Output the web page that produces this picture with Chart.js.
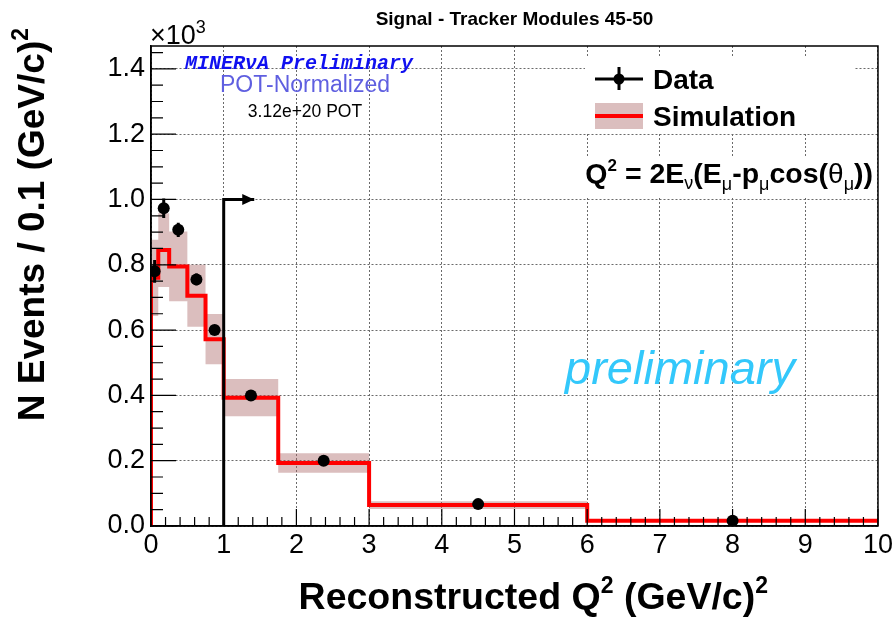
<!DOCTYPE html>
<html>
<head>
<meta charset="utf-8">
<script src="https://cdn.jsdelivr.net/npm/chart.js@4.4.0/dist/chart.umd.min.js"></script>
<style>
  html, body { margin: 0; padding: 0; background: #fff; }
  #wrap { width: 896px; height: 618px; }
</style>
</head>
<body>
<div id="wrap"><canvas id="q2Chart" width="896" height="618"></canvas></div>
<script>
// Q^2 bins, (GeV/c)^2
const binEdges = [0, 0.1, 0.25, 0.5, 0.75, 1, 1.75, 3, 6, 10];
// simulation, in units of 10^3 events
const simValues = [0.76, 0.845, 0.795, 0.705, 0.572, 0.393, 0.193, 0.064, 0.016];
const simErrors = [0.117, 0.113, 0.107, 0.095, 0.077, 0.057, 0.030, 0.012, 0.004];
// data points
const dataX = [0.05, 0.175, 0.375, 0.625, 0.875, 1.375, 2.375, 4.5, 8];
const dataValues = [0.78, 0.973, 0.907, 0.755, 0.600, 0.400, 0.200, 0.067, 0.016];
const dataErrors = [0.035, 0.030, 0.022, 0.018, 0.014, 0.010, 0.006, 0.003, 0.002];
// cut line (Q2 > 1)
const cutX = [1, 1, 1.42];
const cutY = [0, 1.0, 1.0];
// axis ticks
const xTicks = [0, 1, 2, 3, 4, 5, 6, 7, 8, 9, 10];
const yTicks = [0, 0.2, 0.4, 0.6, 0.8, 1.0, 1.2, 1.4];

const SANS = "'Liberation Sans', Arial, Helvetica, sans-serif";

function stepPoints(vals) {
  const pts = vals.map((v, i) => ({ x: binEdges[i], y: v }));
  pts.push({ x: binEdges[binEdges.length - 1], y: vals[vals.length - 1] });
  return pts;
}

const redLine = [{ x: 0, y: 0 }].concat(stepPoints(simValues));
const bandUp = stepPoints(simValues.map((v, i) => v + simErrors[i]));
const bandLo = stepPoints(simValues.map((v, i) => v - simErrors[i]));

const errBars = [];
dataX.forEach((x, i) => {
  errBars.push({ x: x, y: dataValues[i] - dataErrors[i] });
  errBars.push({ x: x, y: dataValues[i] + dataErrors[i] });
  errBars.push({ x: x, y: null });
});

// draws a list of text pieces (sub/superscripts) on one baseline
function drawRich(ctx, parts, x, y, align) {
  let total = 0;
  parts.forEach(p => { ctx.font = p.f; p.w = ctx.measureText(p.t).width; total += p.w; });
  let cx = align === 'right' ? x - total : align === 'center' ? x - total / 2 : x;
  ctx.textAlign = 'left';
  ctx.textBaseline = 'alphabetic';
  parts.forEach(p => {
    ctx.font = p.f;
    ctx.fillText(p.t, cx, y + (p.dy || 0));
    cx += p.w;
  });
}

const rootDecor = {
  id: 'rootDecor',
  beforeDatasetsDraw(chart) {
    const ctx = chart.ctx;
    ctx.save();
    ctx.fillStyle = '#fff';
    ctx.fillRect(585, 57, 270, 76);
    ctx.fillRect(576, 158, 300, 38);
    ctx.restore();
  },
  afterDraw(chart) {
    const ctx = chart.ctx;
    const xs = chart.scales.x, ys = chart.scales.y;
    const a = chart.chartArea;
    ctx.save();

    // frame
    ctx.strokeStyle = '#000';
    ctx.lineWidth = 1.5;
    ctx.strokeRect(a.left, a.top, a.right - a.left, a.bottom - a.top);

    // inward ticks, left and bottom
    ctx.lineWidth = 1.2;
    ctx.beginPath();
    for (let v = 0; v <= 10.001; v += 0.2) {
      const px = xs.getPixelForValue(v);
      const major = Math.abs(v - Math.round(v)) < 1e-6;
      ctx.moveTo(px, a.bottom);
      ctx.lineTo(px, a.bottom - (major ? 17 : 9));
    }
    for (let v = 0; v <= 1.46; v += 0.05) {
      const py = ys.getPixelForValue(v);
      const major = Math.abs(v / 0.2 - Math.round(v / 0.2)) < 1e-6;
      ctx.moveTo(a.left, py);
      ctx.lineTo(a.left + (major ? 25 : 12), py);
    }
    ctx.stroke();

    // arrow head at end of cut line
    const tx = xs.getPixelForValue(cutX[cutX.length - 1]);
    const ty = ys.getPixelForValue(cutY[cutY.length - 1]);
    ctx.fillStyle = '#000';
    ctx.beginPath();
    ctx.moveTo(tx, ty);
    ctx.lineTo(tx - 12, ty - 5.5);
    ctx.lineTo(tx - 12, ty + 5.5);
    ctx.closePath();
    ctx.fill();

    // title
    ctx.fillStyle = '#000';
    ctx.font = 'bold 19px ' + SANS;
    ctx.textAlign = 'center';
    ctx.fillText('Signal - Tracker Modules 45-50', (a.left + a.right) / 2, 25);

    // x10^3
    drawRich(ctx, [
      { t: '\u00d710', f: '27px ' + SANS },
      { t: '3', f: '18px ' + SANS, dy: -11 }
    ], 150, 44, 'left');

    // axis titles
    drawRich(ctx, [
      { t: 'Reconstructed Q', f: 'bold 37.5px ' + SANS },
      { t: '2', f: 'bold 23px ' + SANS, dy: -16 },
      { t: ' (GeV/c)', f: 'bold 37.5px ' + SANS },
      { t: '2', f: 'bold 23px ' + SANS, dy: -16 }
    ], 768, 609, 'right');

    ctx.save();
    ctx.translate(44, 28);
    ctx.rotate(-Math.PI / 2);
    drawRich(ctx, [
      { t: 'N Events / 0.1 (GeV/c)', f: 'bold 37px ' + SANS },
      { t: '2', f: 'bold 23px ' + SANS, dy: -16 }
    ], 0, 0, 'right');
    ctx.restore();

    // labels top left
    ctx.textAlign = 'center';
    ctx.fillStyle = '#1010f0';
    ctx.font = "italic bold 20px 'Liberation Mono', 'DejaVu Sans Mono', monospace";
    ctx.fillText('MINER\u03bdA Preliminary', 299, 69);
    ctx.fillStyle = '#5f5fe0';
    ctx.font = '23px ' + SANS;
    ctx.fillText('POT-Normalized', 305, 92);
    ctx.fillStyle = '#000';
    ctx.font = '17.5px ' + SANS;
    ctx.fillText('3.12e+20 POT', 305, 117);

    // legend
    ctx.strokeStyle = '#000';
    ctx.lineWidth = 3;
    ctx.beginPath();
    ctx.moveTo(595, 79); ctx.lineTo(643, 79);
    ctx.moveTo(619, 67); ctx.lineTo(619, 90);
    ctx.stroke();
    ctx.beginPath();
    ctx.arc(619, 79, 5.5, 0, Math.PI * 2);
    ctx.fill();
    ctx.fillStyle = 'rgba(170,100,100,0.42)';
    ctx.fillRect(595, 103, 48, 26);
    ctx.strokeStyle = '#ff0000';
    ctx.lineWidth = 4;
    ctx.beginPath();
    ctx.moveTo(595, 116); ctx.lineTo(643, 116);
    ctx.stroke();
    ctx.fillStyle = '#000';
    ctx.font = 'bold 28px ' + SANS;
    ctx.textAlign = 'left';
    ctx.fillText('Data', 653, 89);
    ctx.fillText('Simulation', 653, 126);

    // formula
    const B = 'bold 28.5px ' + SANS, S = '18px ' + SANS, G = '28px ' + SANS;
    drawRich(ctx, [
      { t: 'Q', f: B }, { t: '2', f: 'bold 17px ' + SANS, dy: -12 },
      { t: ' = 2E', f: B }, { t: '\u03bd', f: S, dy: 6 },
      { t: '(E', f: B }, { t: '\u03bc', f: S, dy: 7 },
      { t: '-p', f: B }, { t: '\u03bc', f: S, dy: 7 },
      { t: 'cos(', f: B }, { t: '\u03b8', f: G }, { t: '\u03bc', f: S, dy: 7 },
      { t: '))', f: B }
    ], 873, 183, 'right');

    // preliminary watermark
    ctx.fillStyle = '#33c8fb';
    ctx.font = 'italic 47px ' + SANS;
    ctx.textAlign = 'center';
    ctx.fillText('preliminary', 680, 384);

    ctx.restore();
  }
};

new Chart(document.getElementById('q2Chart').getContext('2d'), {
  type: 'scatter',
  data: {
    datasets: [
      {
        label: 'band up',
        data: bandUp,
        showLine: true,
        stepped: 'before',
        borderWidth: 0,
        pointRadius: 0,
        backgroundColor: 'rgba(170,100,100,0.42)',
        fill: '+1',
        order: 5
      },
      {
        label: 'band lo',
        data: bandLo,
        showLine: true,
        stepped: 'before',
        borderWidth: 0,
        pointRadius: 0,
        fill: false,
        order: 6
      },
      {
        label: 'Simulation',
        data: redLine,
        showLine: true,
        stepped: 'before',
        borderColor: '#ff0000',
        borderWidth: 4,
        pointRadius: 0,
        fill: false,
        order: 3
      },
      {
        label: 'cut',
        data: cutX.map((x, i) => ({ x: x, y: cutY[i] })),
        showLine: true,
        borderColor: '#000',
        borderWidth: 3,
        pointRadius: 0,
        fill: false,
        order: 2
      },
      {
        label: 'errors',
        data: errBars,
        showLine: true,
        spanGaps: false,
        borderColor: '#000',
        borderWidth: 3,
        pointRadius: 0,
        fill: false,
        order: 1
      },
      {
        label: 'Data',
        data: dataX.map((x, i) => ({ x: x, y: dataValues[i] })),
        showLine: false,
        pointRadius: 6,
        pointBackgroundColor: '#000',
        pointBorderColor: '#000',
        pointBorderWidth: 0,
        order: 0
      }
    ]
  },
  options: {
    responsive: false,
    animation: false,
    devicePixelRatio: 1,
    layout: { padding: { left: 0, top: 46, right: 14, bottom: 0 } },
    plugins: {
      legend: { display: false },
      tooltip: { enabled: false },
      title: { display: false }
    },
    scales: {
      x: {
        type: 'linear',
        min: 0,
        max: 10,
        afterFit: s => { s.height = 92; },
        afterBuildTicks: s => { s.ticks = xTicks.map(v => ({ value: v })); },
        ticks: {
          color: '#000',
          padding: 3,
          maxRotation: 0,
          font: { family: SANS, size: 27 },
          callback: v => String(v)
        },
        grid: { color: '#6a6a6a', lineWidth: 1, drawTicks: false },
        border: { display: true, color: '#000', width: 1.5, dash: [2, 2] }
      },
      y: {
        type: 'linear',
        min: 0,
        max: 1.47,
        afterFit: s => { s.width = 151; },
        afterBuildTicks: s => { s.ticks = yTicks.map(v => ({ value: v })); },
        ticks: {
          color: '#000',
          padding: 6,
          font: { family: SANS, size: 27 },
          callback: v => v.toFixed(1)
        },
        grid: { color: '#6a6a6a', lineWidth: 1, drawTicks: false },
        border: { display: true, color: '#000', width: 1.5, dash: [2, 2] }
      }
    }
  },
  plugins: [rootDecor]
});
</script>
</body>
</html>
